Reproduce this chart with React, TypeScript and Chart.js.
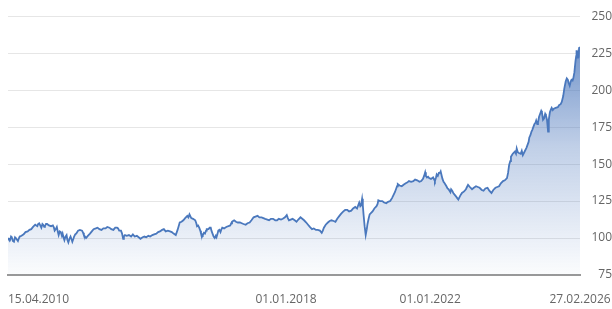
import React, { useEffect, useRef } from "react";
import { Chart, registerables } from "chart.js";

Chart.register(...registerables);

// decimal years
const dates: number[] = [
  2010.285, 2010.31, 2010.34, 2010.37, 2010.39, 2010.42, 2010.45, 2010.48, 2010.5, 2010.53,
  2010.56, 2010.59, 2010.61, 2010.66, 2010.72, 2010.77, 2010.83, 2010.88, 2010.93, 2010.98,
  2011.04, 2011.07, 2011.1, 2011.12, 2011.15, 2011.18, 2011.21, 2011.24, 2011.26, 2011.29,
  2011.31, 2011.34, 2011.37, 2011.42, 2011.48, 2011.53, 2011.56, 2011.58, 2011.61, 2011.64,
  2011.67, 2011.69, 2011.72, 2011.75, 2011.78, 2011.8, 2011.83, 2011.85, 2011.88, 2011.91,
  2011.93, 2011.96, 2011.99, 2012.02, 2012.05, 2012.07, 2012.1, 2012.12, 2012.15, 2012.18,
  2012.23, 2012.28, 2012.34, 2012.37, 2012.39, 2012.42, 2012.45, 2012.5, 2012.56, 2012.61,
  2012.66, 2012.72, 2012.77, 2012.82, 2012.88, 2012.93, 2012.99, 2013.04, 2013.1, 2013.15,
  2013.21, 2013.26, 2013.31, 2013.34, 2013.37, 2013.42, 2013.45, 2013.48, 2013.5, 2013.53,
  2013.58, 2013.64, 2013.7, 2013.75, 2013.8, 2013.86, 2013.91, 2013.96, 2014.02, 2014.07,
  2014.12, 2014.18, 2014.23, 2014.29, 2014.34, 2014.4, 2014.45, 2014.5, 2014.56, 2014.61,
  2014.66, 2014.72, 2014.78, 2014.83, 2014.88, 2014.94, 2014.99, 2015.02, 2015.05, 2015.1,
  2015.15, 2015.2, 2015.26, 2015.29, 2015.32, 2015.35, 2015.37, 2015.42, 2015.48, 2015.51,
  2015.53, 2015.56, 2015.59, 2015.62, 2015.64, 2015.67, 2015.69, 2015.72, 2015.75, 2015.78,
  2015.8, 2015.85, 2015.88, 2015.91, 2015.93, 2015.96, 2015.99, 2016.02, 2016.05, 2016.07,
  2016.1, 2016.12, 2016.15, 2016.18, 2016.2, 2016.23, 2016.28, 2016.34, 2016.4, 2016.45,
  2016.48, 2016.5, 2016.53, 2016.56, 2016.61, 2016.66, 2016.72, 2016.77, 2016.82, 2016.88,
  2016.93, 2016.99, 2017.04, 2017.1, 2017.15, 2017.21, 2017.26, 2017.32, 2017.37, 2017.42,
  2017.48, 2017.53, 2017.58, 2017.64, 2017.7, 2017.75, 2017.8, 2017.86, 2017.91, 2017.97,
  2018.02, 2018.05, 2018.08, 2018.13, 2018.18, 2018.24, 2018.29, 2018.34, 2018.4, 2018.45,
  2018.5, 2018.56, 2018.61, 2018.66, 2018.72, 2018.77, 2018.83, 2018.88, 2018.94, 2018.99,
  2019.02, 2019.05, 2019.1, 2019.16, 2019.21, 2019.26, 2019.32, 2019.37, 2019.42, 2019.48,
  2019.53, 2019.59, 2019.64, 2019.7, 2019.75, 2019.81, 2019.86, 2019.92, 2019.97, 2020.0,
  2020.03, 2020.06, 2020.08, 2020.11, 2020.13, 2020.15, 2020.18, 2020.21, 2020.24, 2020.26,
  2020.29, 2020.32, 2020.36, 2020.4, 2020.45, 2020.51, 2020.54, 2020.56, 2020.61, 2020.67,
  2020.72, 2020.78, 2020.83, 2020.89, 2020.94, 2020.99, 2021.02, 2021.05, 2021.08, 2021.1,
  2021.15, 2021.21, 2021.26, 2021.32, 2021.36, 2021.41, 2021.47, 2021.53, 2021.58, 2021.64,
  2021.7, 2021.75, 2021.8, 2021.83, 2021.86, 2021.88, 2021.91, 2021.94, 2021.97, 2022.02,
  2022.08, 2022.11, 2022.13, 2022.16, 2022.18, 2022.21, 2022.24, 2022.27, 2022.29, 2022.32,
  2022.34, 2022.37, 2022.4, 2022.45, 2022.48, 2022.51, 2022.56, 2022.58, 2022.61, 2022.64,
  2022.67, 2022.72, 2022.75, 2022.78, 2022.83, 2022.88, 2022.94, 2022.99, 2023.02, 2023.05,
  2023.1, 2023.16, 2023.21, 2023.27, 2023.32, 2023.37, 2023.43, 2023.48, 2023.53, 2023.59,
  2023.64, 2023.7, 2023.75, 2023.81, 2023.86, 2023.91, 2023.96, 2024.02, 2024.07, 2024.13,
  2024.16, 2024.19, 2024.22, 2024.24, 2024.29, 2024.35, 2024.38, 2024.4, 2024.43, 2024.46,
  2024.51, 2024.54, 2024.57, 2024.62, 2024.67, 2024.7, 2024.73, 2024.75, 2024.78, 2024.81,
  2024.83, 2024.86, 2024.89, 2024.92, 2024.94, 2024.97, 2024.99, 2025.02, 2025.05, 2025.08,
  2025.1, 2025.13, 2025.16, 2025.19, 2025.21, 2025.24, 2025.27, 2025.29, 2025.32, 2025.35,
  2025.37, 2025.4, 2025.43, 2025.48, 2025.54, 2025.58, 2025.62, 2025.65, 2025.69, 2025.72,
  2025.76, 2025.79, 2025.82, 2025.84, 2025.87, 2025.9, 2025.92, 2025.95, 2025.97, 2026.0,
  2026.03, 2026.05, 2026.06, 2026.08, 2026.1, 2026.12, 2026.13, 2026.156,
];

const values: number[] = [
  100, 99, 98.5, 101, 100.5, 98, 97.5, 100.5, 100, 99,
  98, 100, 101, 101.5, 102.5, 104, 104.5, 105.5, 106, 107.5,
  109, 108.5, 108, 109.5, 110, 108.5, 107, 109.5, 109, 107.5,
  108, 109.5, 109.5, 108.5, 108, 108.5, 107, 105, 106, 107.5,
  104, 102, 104.5, 104, 101.5, 103, 100, 98.5, 101, 102,
  99, 97, 99.5, 101, 99, 97.5, 99.5, 101, 102.5, 103,
  105, 105.5, 105, 103.5, 102, 101, 100, 101.5, 103, 104.5,
  106, 106.5, 107, 106, 105.5, 106.5, 106.5, 107.5, 107, 106,
  105.5, 107, 107, 106.5, 105, 105, 103, 99.5, 101, 102,
  101.5, 102, 101, 102.5, 101, 101.5, 100.5, 99.5, 100.5, 101,
  100.5, 101.5, 101, 102, 102.5, 103, 104, 104.5, 105.5, 106,
  104.5, 105, 104.5, 104, 103, 102, 105.5, 108, 110.5, 111,
  112, 113.5, 115, 114, 116, 114.5, 113.5, 113, 112, 110,
  108, 108.5, 107, 105, 103, 102.5, 102, 103.5, 103, 105,
  106, 106, 107, 107, 105, 103, 101, 100, 101.5, 100.5,
  103, 105, 105.5, 104, 105.5, 107, 106.5, 107.5, 108, 108.5,
  110, 111, 111.5, 112, 111, 110.5, 110.5, 110, 109.5, 109,
  110, 110.5, 112, 114, 114.5, 115, 114, 114, 113.5, 113,
  112.5, 112, 113, 113, 112, 112, 113, 112.5, 113, 114,
  115.5, 113.5, 112, 112.5, 113, 112, 111, 112.5, 114, 113,
  112, 110.5, 109, 107.5, 106, 106.5, 105.5, 105.5, 105, 103.5,
  105, 107, 109, 110.5, 111.5, 112, 111.5, 111, 113, 115,
  116.5, 118, 119, 119, 118, 118.5, 120, 121, 120, 122,
  124, 121.5, 122, 126.5, 122, 116, 108, 102, 106, 109.5,
  113, 116, 117, 118, 120, 121.5, 123, 125.5, 125, 125,
  124, 123.5, 124.5, 125, 127, 129.5, 131, 133, 135, 136.5,
  135.5, 135, 136, 137, 137.5, 138.5, 138, 138.5, 139.5, 139,
  138, 138.5, 140, 142, 144.5, 142, 141, 141.5, 140.5, 140,
  141, 139.5, 138.5, 141, 143, 142, 144, 144, 145, 142,
  140, 138, 137, 135, 133.5, 133, 131, 133, 132, 130.5,
  129.5, 128, 127, 126, 128.5, 130.5, 131.5, 133, 134.5, 136,
  134.5, 133, 134, 135, 134.5, 134, 132.5, 132, 133.5, 134,
  132, 130.5, 132.5, 134, 134.5, 135, 137, 138.5, 139, 140.5,
  144, 149.5, 152, 155, 157, 158.5, 157, 160.5, 158, 157.5,
  157, 159, 156, 158.5, 161, 163, 165, 168, 169.5, 172,
  173, 175, 177, 178, 179.5, 177, 178, 182, 184, 186,
  185, 180, 181, 184, 183, 180, 172, 180, 185, 187,
  188, 186.5, 187.5, 188, 188.5, 190, 190.5, 192, 196, 201,
  206, 208, 207, 205, 203, 206, 207, 206.5, 208, 212,
  219.5, 223, 227, 222, 225, 224, 228.5, 229,
];

const xTickValues: number[] = [2010.285, 2018.0, 2022.0, 2026.156];
const xTickLabels: string[] = ["15.04.2010", "01.01.2018", "01.01.2022", "27.02.2026"];
const yTicks: number[] = [75, 100, 125, 150, 175, 200, 225, 250];

const FONT = "'Open Sans', sans-serif";
const TEXT_COLOR = "#666666";

export default function App() {
  const ref = useRef<HTMLCanvasElement | null>(null);

  useEffect(() => {
    if (!ref.current) return;
    const labelPlugin = {
      id: "xLabels",
      afterDraw(chart: any) {
        const ctx = chart.ctx;
        const xs = chart.scales.x;
        ctx.save();
        ctx.font = `12px ${FONT}`;
        ctx.fillStyle = TEXT_COLOR;
        ctx.textBaseline = "middle";
        xTickValues.forEach((v, i) => {
          const px = xs.getPixelForValue(v);
          ctx.textAlign = i === 0 ? "left" : "center";
          ctx.fillText(xTickLabels[i], i === 0 ? chart.chartArea.left : px, 300);
        });
        ctx.restore();
      },
    };

    const chart = new Chart(ref.current, {
      type: "line",
      data: {
        datasets: [
          {
            data: dates.map((d, i) => ({ x: d, y: values[i] })),
            borderColor: "#4a78bd",
            borderWidth: 1.8,
            pointRadius: 0,
            tension: 0,
            fill: "start",
            backgroundColor: (c: any) => {
              const area = c.chart.chartArea;
              if (!area) return "rgba(74,118,187,0.3)";
              const g = c.chart.ctx.createLinearGradient(0, area.top, 0, area.bottom);
              g.addColorStop(0, "rgba(74,118,187,0.9)");
              g.addColorStop(0.5, "rgba(74,118,187,0.35)");
              g.addColorStop(1, "rgba(74,118,187,0.02)");
              return g;
            },
          },
        ],
      },
      options: {
        animation: false,
        responsive: false,
        layout: { padding: { top: 13, left: 8, right: 0, bottom: 0 } },
        plugins: { legend: { display: false }, tooltip: { enabled: false } },
        scales: {
          x: {
            type: "linear",
            min: dates[0],
            max: dates[dates.length - 1],
            afterBuildTicks: (s: any) => {
              s.ticks = xTickValues.map((v) => ({ value: v }));
            },
            afterFit: (s: any) => {
              s.height = 34;
            },
            ticks: { display: false },
            grid: { display: false, drawTicks: false },
            border: { display: true, color: "#999999", width: 2 },
          },
          y: {
            position: "right",
            min: 75,
            max: 250,
            afterBuildTicks: (s: any) => {
              s.ticks = yTicks.map((v) => ({ value: v }));
            },
            afterFit: (s: any) => {
              s.width = 32;
            },
            ticks: {
              crossAlign: "far",
              padding: 9,
              color: TEXT_COLOR,
              font: { family: FONT, size: 12 },
            },
            grid: { color: "#e6e6e6", lineWidth: 1, drawTicks: false },
            border: { display: false },
          },
        },
      },
      plugins: [labelPlugin],
    } as any);
    return () => chart.destroy();
  }, []);

  return (
    <div style={{ position: "fixed", left: 0, top: 0, width: 612, height: 309, background: "#fff" }}>
      <canvas ref={ref} width={612} height={309} style={{ display: "block" }} />
    </div>
  );
}
